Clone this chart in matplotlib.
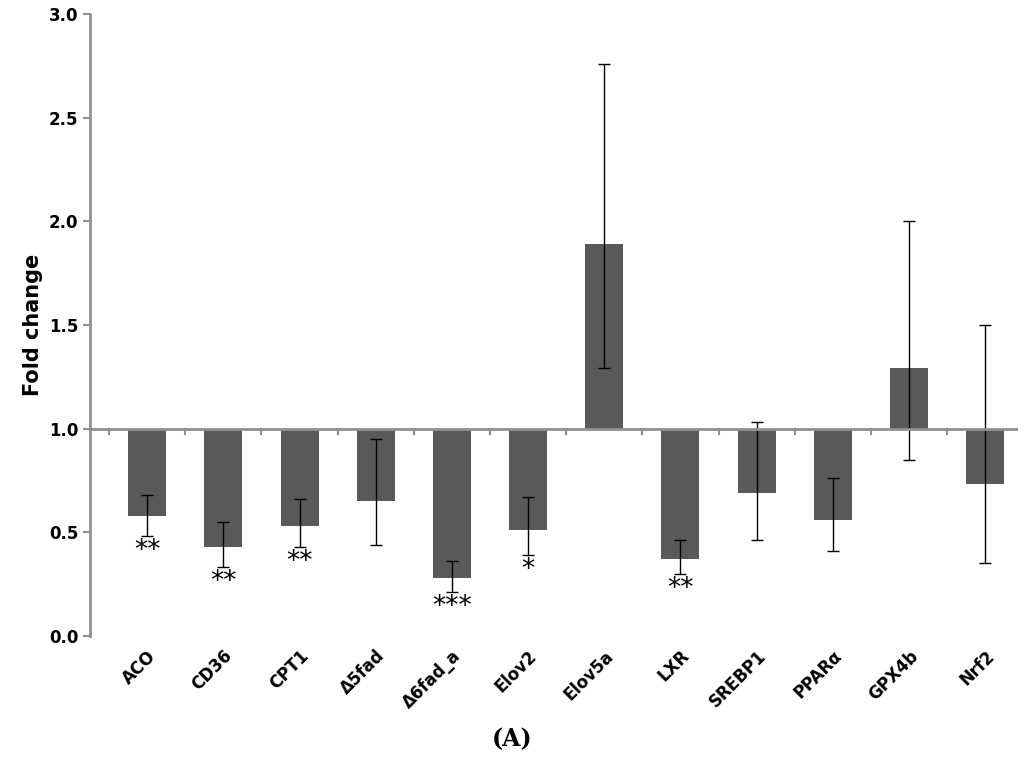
import matplotlib.pyplot as plt
import numpy as np

genes = ['ACO', 'CD36', 'CPT1', 'Δ5fad', 'Δ6fad_a', 'Elov2', 'Elov5a', 'LXR',
         'SREBP1', 'PPARα', 'GPX4b', 'Nrf2']
fold = [0.58, 0.43, 0.53, 0.65, 0.28, 0.51, 1.89, 0.37, 0.69, 0.56, 1.29, 0.73]
err_low = [0.48, 0.33, 0.43, 0.44, 0.21, 0.39, 1.29, 0.30, 0.46, 0.41, 0.85, 0.35]
err_high = [0.68, 0.55, 0.66, 0.95, 0.36, 0.67, 2.76, 0.46, 1.03, 0.76, 2.00, 1.50]
stars = ['**', '**', '**', '', '***', '*', '', '**', '', '', '', '']

x = np.arange(len(genes))
fold = np.array(fold)
yerr = [fold - np.array(err_low), np.array(err_high) - fold]

fig = plt.figure(figsize=(10.24, 7.81), dpi=100)
ax = fig.add_axes([0.088, 0.186, 0.906, 0.796])

ax.bar(x, fold - 1, bottom=1, width=0.5, color='#595959')
ax.errorbar(x, fold, yerr=yerr, fmt='none', ecolor='black', elinewidth=1, capsize=4)

for xi, lo, s in zip(x, err_low, stars):
    if s:
        ax.text(xi, lo - 0.01, s, ha='center', va='top', fontsize=19)

# axis line at 1.0 with tick marks between categories
ax.axhline(1.0, color='#909090', lw=2)
for b in np.arange(-0.5, len(genes), 1.0):
    ax.plot([b, b], [1.0, 0.975], color='#909090', lw=1.5)

ax.set_xlim(-0.75, 11.43)
ax.set_ylim(0, 3.0)
ax.set_yticks(np.arange(0, 3.01, 0.5))
ax.set_yticklabels([f'{v:.1f}' for v in np.arange(0, 3.01, 0.5)], fontweight='bold', fontsize=12)
ax.set_xticks(x)
ax.set_xticklabels(genes, rotation=45, ha='right', rotation_mode='anchor', fontweight='bold', fontsize=12)
ax.tick_params(axis='x', length=0, pad=8)
ax.tick_params(axis='y', direction='out', length=5, width=1.5, color='#909090')
for side in ['top', 'right', 'bottom']:
    ax.spines[side].set_visible(False)
ax.spines['left'].set_color('#909090')
ax.spines['left'].set_linewidth(2)
ax.set_ylabel('Fold change', fontweight='bold', fontsize=15)

fig.text(0.5, 0.045, '(A)', ha='center', fontsize=17, fontweight='bold', family='serif')

plt.savefig('out.png', dpi=100)
